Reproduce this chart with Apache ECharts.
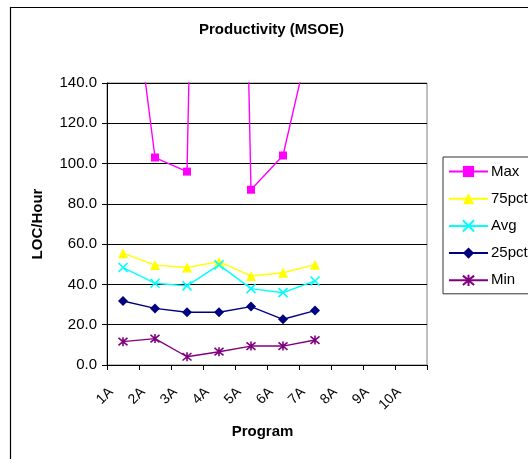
<!DOCTYPE html>
<html>
<head>
<meta charset="utf-8">
<script src="https://cdn.jsdelivr.net/npm/echarts@6/dist/echarts.min.js"></script>
<style>html,body{margin:0;padding:0;background:#fff;}#c{width:528px;height:459px;}</style>
</head>
<body>
<div id="c"></div>
<script>
const categories = ['1A','2A','3A','4A','5A','6A','7A','8A','9A','10A'];
const maxVals = [228, 103, 96, 850, 87, 104, 173];
const p75Vals = [55.5, 49.6, 48.4, 51.3, 44.2, 45.8, 49.8];
const avgVals = [48.4, 40.6, 39.3, 49.7, 37.9, 35.9, 41.7];
const p25Vals = [31.8, 28.1, 26.2, 26.2, 29.0, 22.7, 27.0];
const minVals = [11.6, 13.1, 4.1, 6.6, 9.4, 9.4, 12.4];
const seriesNames = ['Max', '75pct', 'Avg', '25pct', 'Min'];

const FONT = "'Liberation Sans', Arial, sans-serif";
const xPath = 'path://M0,0L10,10M10,0L0,10';
const starPath = 'path://M0,0L10,10M10,0L0,10M5,-1L5,11';

function mkSeries(name, data, color, symbol, size, stroke) {
  return {
    name: name, type: 'line', data: data, xAxisIndex: 0, yAxisIndex: 0,
    symbol: symbol, symbolSize: size, clip: true,
    lineStyle: { color: color, width: 1.4 },
    itemStyle: stroke ? { color: 'rgba(0,0,0,0)', borderColor: color, borderWidth: 1.6 } : { color: color, borderColor: color, borderWidth: 0 },
    emphasis: { disabled: true },
    animation: false
  };
}

const chart = echarts.init(document.getElementById('c'), null, { renderer: 'canvas' });
chart.setOption({
  animation: false,
  backgroundColor: '#fff',
  textStyle: { fontFamily: FONT },
  title: {
    text: 'Productivity (MSOE)', left: 199, top: 22, padding: 0,
    textStyle: { fontFamily: FONT, fontSize: 15, fontWeight: 'bold', color: '#000' }
  },
  graphic: [{
    type: 'rect', shape: { x: 10.5, y: 7.5, width: 700, height: 700 },
    style: { fill: null, stroke: '#000', lineWidth: 1.2 }, silent: true, z: -1
  }],
  legend: {
    orient: 'vertical', left: 443, top: 157,
    padding: [7, 40, 6, 5],
    itemWidth: 39, itemHeight: 14, itemGap: 12.2,
    borderColor: '#333', borderWidth: 1,
    backgroundColor: '#fff',
    textStyle: { fontFamily: FONT, fontSize: 15, color: '#000', padding: [0, 0, 0, -2] },
    data: seriesNames
  },
  grid: [{
    left: 107, top: 83, right: 101, bottom: 94,
    show: true, borderColor: '#808080', borderWidth: 1, backgroundColor: '#fff',
    containLabel: false
  }, {
    left: 111, top: 83, right: 97, bottom: 91, show: false, containLabel: false
  }],
  xAxis: [{
    type: 'category', data: categories, boundaryGap: true, gridIndex: 0,
    axisLine: { lineStyle: { color: '#000', width: 1 } },
    axisTick: { show: true, length: 5, lineStyle: { color: '#000' } },
    axisLabel: { show: false },
    splitLine: { show: false },
    name: 'Program', nameLocation: 'middle', nameGap: 59,
    nameTextStyle: { fontFamily: FONT, fontSize: 15, fontWeight: 'bold', color: '#000', padding: [0, 9, 0, 0] }
  }, {
    type: 'category', data: categories.concat(['']), boundaryGap: false, position: 'bottom', gridIndex: 1,
    axisLine: { show: false }, axisTick: { show: false }, splitLine: { show: false },
    axisLabel: { interval: 0, rotate: 45, margin: 22, fontFamily: FONT, fontSize: 14, color: '#000' }
  }],
  yAxis: [{
    type: 'value', min: 0, max: 140, interval: 20, gridIndex: 0,
    axisLine: { show: true, lineStyle: { color: '#000', width: 1 } },
    axisTick: { show: true, length: 5, lineStyle: { color: '#000' } },
    axisLabel: { margin: 10, fontFamily: FONT, fontSize: 15, color: '#000', formatter: v => v.toFixed(1) },
    splitLine: { show: true, lineStyle: { color: '#000', width: 1 } },
    name: 'LOC/Hour', nameLocation: 'middle', nameRotate: 90, nameGap: 62,
    nameTextStyle: { fontFamily: FONT, fontSize: 15, fontWeight: 'bold', color: '#000' }
  }, {
    type: 'value', min: 0, max: 140, interval: 20, gridIndex: 1, show: false
  }],
  series: [
    mkSeries('Max', maxVals, '#FF00FF', 'rect', 8, false),
    mkSeries('75pct', p75Vals, '#FFFF00', 'triangle', 10, false),
    mkSeries('Avg', avgVals, '#00FFFF', xPath, 9, true),
    mkSeries('25pct', p25Vals, '#000080', 'diamond', 10, false),
    mkSeries('Min', minVals, '#800080', starPath, 9, true)
  ]
});
</script>
</body>
</html>
